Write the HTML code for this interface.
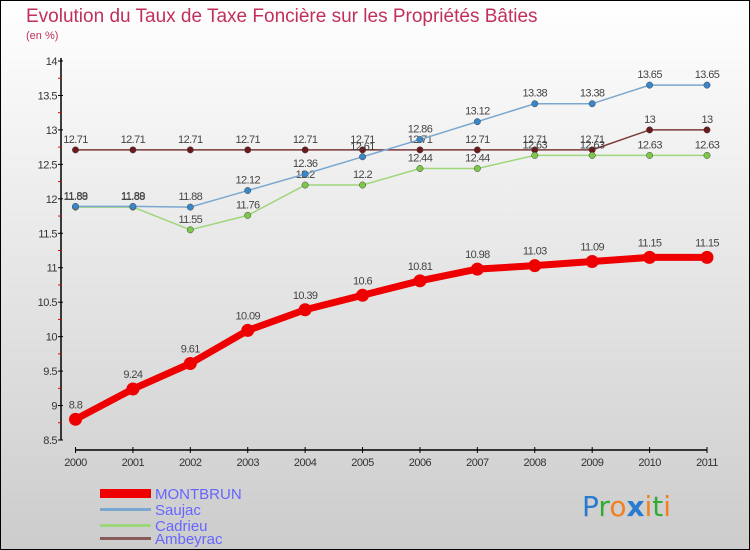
<!DOCTYPE html>
<html><head><meta charset="utf-8"><style>
body{margin:0;width:750px;height:550px;overflow:hidden}
svg{display:block;font-family:"Liberation Sans",sans-serif}
</style></head><body>
<svg width="750" height="550">
<defs><linearGradient id="bg" x1="0" y1="0" x2="0" y2="1"><stop offset="0" stop-color="#ffffff"/><stop offset="1" stop-color="#cccccc"/></linearGradient></defs>
<rect x="0.5" y="0.5" width="749" height="549" fill="url(#bg)" stroke="#000"/>
<text x="26" y="22" font-size="19" fill="#c0305a">Evolution du Taux de Taxe Foncière sur les Propriétés Bâties</text>
<text x="26" y="39" font-size="11" fill="#c0305a">(en %)</text>
<g id="axes"></g>
<g id="series"></g>
<g>
<rect x="100" y="489" width="51" height="9" fill="#ee0000"/>
<text x="155" y="499" font-size="15" fill="#6666ff">MONTBRUN</text>
<rect x="100" y="508" width="51" height="3" fill="#7aa7cf"/>
<text x="155" y="515" font-size="15" fill="#6666ff">Saujac</text>
<rect x="100" y="524" width="51" height="3" fill="#9ed67a"/>
<text x="155" y="531" font-size="15" fill="#6666ff">Cadrieu</text>
<rect x="100" y="537" width="51" height="3" fill="#8a5a5a"/>
<text x="155" y="544" font-size="15" fill="#6666ff">Ambeyrac</text>
</g>
<g font-size="28" font-family="'DejaVu Sans',sans-serif">
<text x="582" y="516"><tspan fill="#2a7ad0">P</tspan><tspan fill="#33aa33">r</tspan><tspan fill="#f08020">o</tspan><tspan fill="#2a7ad0" font-weight="bold">x</tspan><tspan fill="#f08020">i</tspan><tspan fill="#33aa33">t</tspan><tspan fill="#f08020">i</tspan></text>
</g>
</svg>
<script>
const years=[2000,2001,2002,2003,2004,2005,2006,2007,2008,2009,2010,2011];
const yTicks=[8.5,9,9.5,10,10.5,11,11.5,12,12.5,13,13.5,14];
const montbrun=[8.8,9.24,9.61,10.09,10.39,10.6,10.81,10.98,11.03,11.09,11.15,11.15];
const saujac=[11.89,11.89,11.88,12.12,12.36,12.61,12.86,13.12,13.38,13.38,13.65,13.65];
const cadrieu=[11.88,11.88,11.55,11.76,12.2,12.2,12.44,12.44,12.63,12.63,12.63,12.63];
const ambeyrac=[12.71,12.71,12.71,12.71,12.71,12.71,12.71,12.71,12.71,12.71,13,13];
const NS="http://www.w3.org/2000/svg";
const x=i=>75.5+i*(707-75.5)/11;
const y=v=>440-(v-8.5)*(440-61)/5.5;
function mk(tag,at,parent){const e=document.createElementNS(NS,tag);for(const k in at)e.setAttribute(k,at[k]);parent.appendChild(e);return e;}
const ax=document.getElementById('axes');
let l=mk('line',{x1:61,y1:58,x2:61,y2:440,stroke:'#000','stroke-width':1.5},ax);


l=mk('line',{x1:75,y1:450,x2:707,y2:450,stroke:'#000','stroke-width':1.5},ax);


yTicks.forEach(v=>{
  const t=mk('line',{x1:58,x2:63,y1:y(v),y2:y(v),stroke:'#000'},ax);
  
  
  if(v<14){const m=mk('line',{x1:58,x2:61,y1:y(v+0.25),y2:y(v+0.25),stroke:'#e00'},ax);
  
  }
  const tx=mk('text',{x:57,y:y(v)+4,'text-anchor':'end','font-size':11,fill:'#333','letter-spacing':'-0.5'},ax);
  tx.textContent=String(v);
  
  
});
years.forEach((yr,i)=>{
  const t=mk('line',{x1:x(i),x2:x(i),y1:447,y2:453,stroke:'#000'},ax);
  
  
  const tx=mk('text',{x:x(i),y:466,'text-anchor':'middle','font-size':11,fill:'#333','letter-spacing':'-0.5'},ax);
  tx.textContent=String(yr);
  
  
});
const sg=document.getElementById('series');
function series(name,data,color,dot,w,r,lblOff){
  const g=mk('g',{},sg);
  
  
  const p=mk('polyline',{points:data.map((v,i)=>x(i)+','+y(v)).join(' '),fill:'none',stroke:color,'stroke-width':w,'stroke-linejoin':'round'},g);
  
  
  data.forEach((v,i)=>{
    const c=mk('circle',{cx:x(i),cy:y(v),r:r,fill:dot,stroke:r>4?'none':'#444','stroke-width':0.5},g);
    
    
    const t=mk('text',{x:x(i),y:y(v)-lblOff,'text-anchor':'middle','font-size':11,fill:'#444','letter-spacing':'-0.6'},g);
    t.textContent=String(v);
    
    
  });
}
series('ambeyrac',ambeyrac,'#7a3a3a','#6a1a1a',1.5,3.2,7);
series('cadrieu',cadrieu,'#9ed67a','#7cc84a',1.5,3.2,7);
series('saujac',saujac,'#7aa7cf','#3a86c8',1.5,3.2,7);
series('montbrun',montbrun,'#ee0000','#ee0000',7,6.5,11);
</script>
</body></html>
